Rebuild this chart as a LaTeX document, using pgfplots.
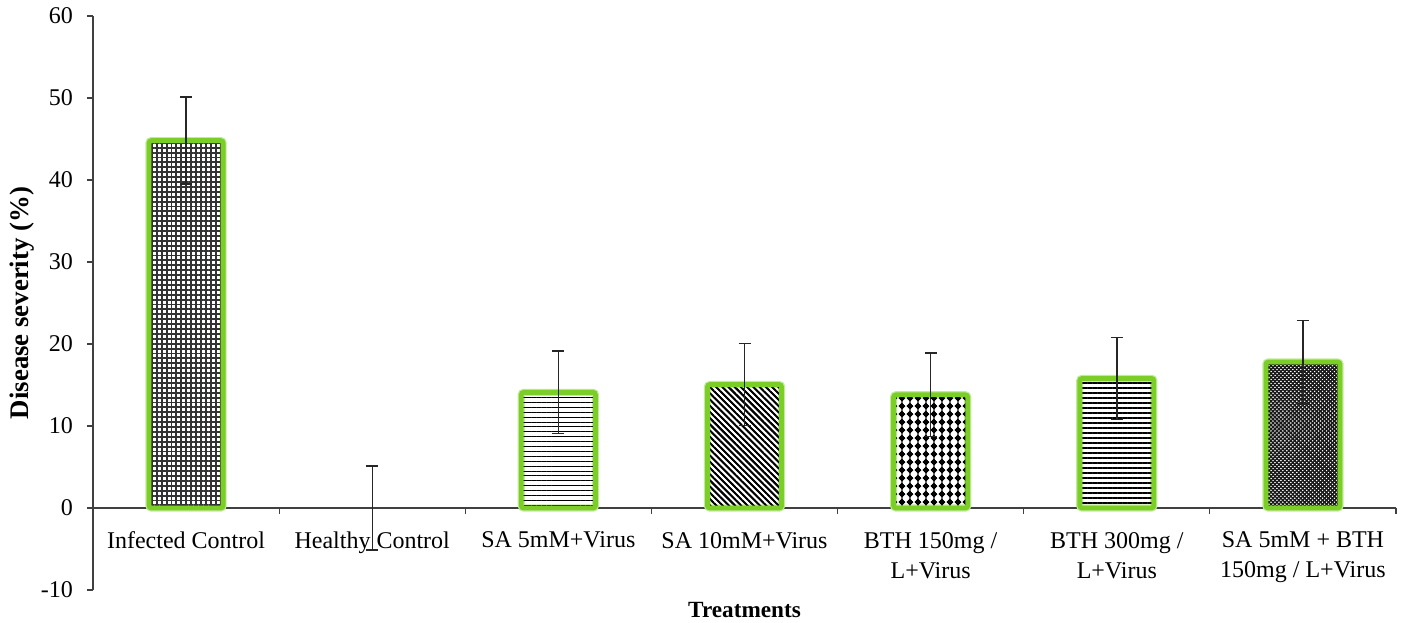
\documentclass[border=0pt]{standalone}
\usepackage{fontspec}
\setmainfont{Liberation Serif}
\usepackage{pgfplots}
\pgfplotsset{compat=1.18}
\usetikzlibrary{patterns,patterns.meta}
\definecolor{bargreen}{RGB}{122,206,38}
\definecolor{axgray}{RGB}{64,64,64}
\tikzdeclarepattern{
  name=mydiamonds, type=uncolored,
  bounding box={(0,0) and (4.2pt,4.2pt)},
  tile size={(4.2pt,4.2pt)},
  code={
    \fill (2.1pt,0.35pt) -- (3.85pt,2.1pt) -- (2.1pt,3.85pt) -- (0.35pt,2.1pt) -- cycle;
    \draw[line width=0.3pt] (2.1pt,0pt) -- (2.1pt,4.2pt);
  }
}
\pgfplotsset{
  myerr/.style={error bars/y dir=both, error bars/y explicit,
    error bars/error bar style={line width=0.7pt, draw=black!85, solid, sharp corners},
    error bars/error mark options={line width=0.7pt, mark size=3pt, black!85, rotate=90, sharp corners}},
  mybar/.style={ybar, bar width=0.398, bar shift=0pt, draw=bargreen, line width=2.4pt, rounded corners=1.2pt,
    preaction={draw=bargreen!45, line width=3.6pt, rounded corners=1.5pt}, myerr},
}
\begin{document}
\begin{tikzpicture}
\begin{axis}[
  scale only axis, width=651.5pt, height=287pt,
  xmin=-0.5, xmax=6.5, ymin=-10, ymax=60,
  axis y line=left, axis x line=middle,
  hide obscured x ticks=false, hide obscured y ticks=false,
  axis line style={axgray, line width=0.6pt, -},
  ytick={-10,0,10,20,30,40,50,60},
  yticklabels={-10,0,10,20,30,40,50,60},
  xtick={0.5,1.5,2.5,3.5,4.5,5.5,6.5},
  xticklabels={},
  extra x ticks={0,1,2,3,4,5,6},
  extra x tick labels={Infected Control, Healthy Control, SA 5mM+Virus, SA 10mM+Virus, {BTH 150mg /\\L+Virus}, {BTH 300mg /\\L+Virus}, {SA 5mM + BTH\\150mg / L+Virus}},
  extra x tick style={major tick length=0pt},
  tick align=outside, major tick length=3pt,
  tick style={axgray, line width=0.6pt},
  xticklabel style={align=center, font=\fontsize{12}{15}\selectfont, anchor=north, yshift=-8.5pt},
  yticklabel style={font=\fontsize{12}{14}\selectfont, xshift=-3.5pt},
  xlabel={Treatments},
  xlabel style={at={(axis description cs:0.5,0)}, anchor=center, yshift=-10pt, font=\fontsize{11.6}{14}\selectfont\bfseries},
  ylabel={Disease severity (\%)},
  ylabel style={at={(axis description cs:-0.0545,0.5)}, anchor=center, font=\fontsize{13.4}{16}\selectfont\bfseries},
  clip=false,
]
\addplot[mybar, pattern={Hatch[angle=0,distance=2.45pt,line width=0.95pt]}, pattern color=black!80] coordinates {(0,44.8) +- (0,5.3)};
\addplot[draw=none, mark=none, myerr] coordinates {(1,0) +- (0,5.1)};
\addplot[mybar, pattern={Lines[angle=0,distance=2.45pt,line width=0.5pt]}, pattern color=black] coordinates {(2,14.1) +- (0,5.05)};
\addplot[mybar, pattern={Lines[angle=-45,distance=2.2pt,line width=0.9pt]}, pattern color=black] coordinates {(3,15.05) +- (0,5.0)};
\addplot[mybar, pattern=mydiamonds, pattern color=black] coordinates {(4,13.8) +- (0,5.1)};
\addplot[mybar, pattern={Lines[angle=0,distance=2.5pt,line width=1.4pt]}, pattern color=black] coordinates {(5,15.8) +- (0,5.0)};
\addplot[mybar, pattern={Hatch[angle=45,distance=1.4pt,line width=0.55pt]}, pattern color=black!90] coordinates {(6,17.8) +- (0,5.1)};
\end{axis}
\pgfresetboundingbox
\path ([xshift=-46.5pt,yshift=-16.5pt]current axis.south west) rectangle ([xshift=4.5pt,yshift=8pt]current axis.north east);
\end{tikzpicture}
\end{document}
